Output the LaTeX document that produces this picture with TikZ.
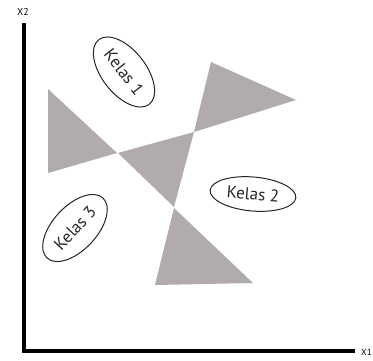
\documentclass[tikz,border=0pt]{standalone}
\usepackage{fontspec}
\setmainfont{PT Sans}
\usepackage{tikz}
\usetikzlibrary{shapes.geometric}
\usepackage{xcolor}
\definecolor{regiongray}{RGB}{178,171,172}

\begin{document}
\begin{tikzpicture}[x=1pt, y=-1pt,
    kelas/.style={ellipse, draw=black!85, line width=1pt, inner sep=0pt, text=black!85, font=\fontsize{17}{17}\selectfont},
    region/.style={fill=regiongray, draw=none}]
    \useasboundingbox (0, 0) rectangle (373, 360);

    % Axes
    \coordinate (origin) at (24, 351);
    \coordinate (x2end) at (24, 23);
    \coordinate (x1end) at (355, 351);
    \draw[line width=4pt] (x2end) -- (origin) -- (x1end);
    \node[font=\fontsize{10}{10}\selectfont] (x2) at (23, 12) {X2};
    \node[font=\fontsize{9}{9}\selectfont, right, inner sep=0pt] (x1) at (361, 352) {X1};

    % Regions
    \fill[region] (211, 62) -- (296, 100) -- (194, 132) -- cycle;
    \fill[region] (48, 89) -- (48, 173) -- (117, 153) -- cycle;
    \fill[region] (118, 153) -- (194, 132) -- (174, 207) -- cycle;
    \fill[region] (174, 208) -- (155, 285) -- (253, 283) -- cycle;

    % Classes
    \node[kelas, minimum width=82pt, minimum height=44pt, rotate=-52] (k1) at (124, 72) {Kelas 1};
    \node[kelas, minimum width=86pt, minimum height=34pt, rotate=-5] (k2) at (253, 194) {Kelas 2};
    \node[kelas, minimum width=82pt, minimum height=44pt, rotate=47] (k3) at (75, 228) {Kelas 3};
\end{tikzpicture}
\end{document}
